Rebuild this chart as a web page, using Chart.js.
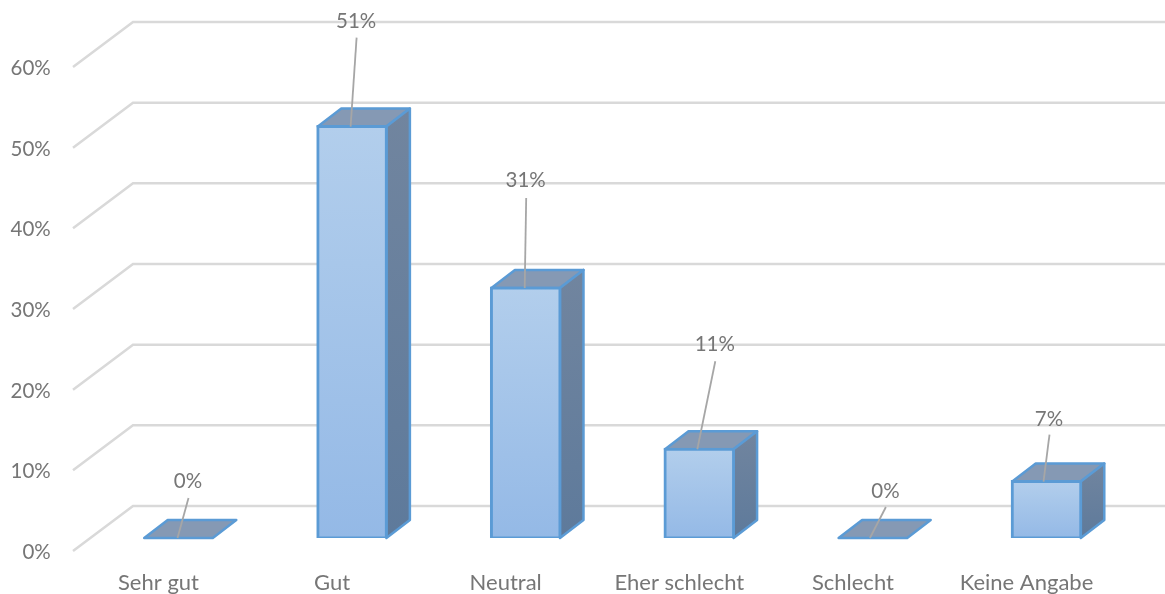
<!DOCTYPE html>
<html lang="de">
<head>
    <meta charset="UTF-8">
    <title>Umfrage</title>
    <script src="https://cdn.jsdelivr.net/npm/chart.js"></script>
    <style>
        html, body { margin: 0; padding: 0; background: #fff; overflow: hidden; }
        #wrap { width: 1165px; height: 594px; }
    </style>
</head>
<body>
    <div id="wrap"><canvas id="surveyChart"></canvas></div>
    <script>
        const categories = ['Sehr gut', 'Gut', 'Neutral', 'Eher schlecht', 'Schlecht', 'Keine Angabe'];
        const shares = [0, 51, 31, 11, 0, 7];
        const yTicks = [0, 10, 20, 30, 40, 50, 60];

        // callout line per bar: where it leaves the bar top and where it ends, relative to the bar
        const calloutStartX = [-1, -1.5, -1, -2, -3, -3];
        const calloutEndX = [10, 4.5, 0.5, 16, 13, 3];
        const calloutRise = [40, 89, 90, 88, 31, 47];
        const calloutGap = [17, 16, 18, 17, 16, 15];

        const textColor = '#767676';
        const gridColor = '#d9d9d9';
        const edgeColor = '#5b9bd5';
        const depthX = 23.5, depthY = 18;
        // wall offsets of the gridlines, measured from the bar plane
        const wallFrontX = 73, wallBackX = 133, wallFrontDrop = 13, wallBackRise = 32;

        function faceGradient(ctx, top, bottom, from, to) {
            const g = ctx.createLinearGradient(0, top, 0, bottom);
            g.addColorStop(0, from);
            g.addColorStop(1, to);
            return g;
        }

        function frontFill(context) {
            const chart = context.chart;
            if (!chart.chartArea) return '#a3c3e9';
            const y = chart.scales.y;
            return faceGradient(chart.ctx, y.getPixelForValue(shares[context.dataIndex]), y.getPixelForValue(0), '#b2ceec', '#94b9e6');
        }

        function polygon(ctx, pts) {
            ctx.beginPath();
            pts.forEach((p, i) => i ? ctx.lineTo(p[0], p[1]) : ctx.moveTo(p[0], p[1]));
            ctx.closePath();
        }

        // bent gridlines and the top/side faces of the bars, under the front faces
        const backdrop = {
            id: 'backdrop',
            beforeDatasetsDraw(chart) {
                const { ctx, scales } = chart;
                ctx.save();
                ctx.strokeStyle = gridColor;
                ctx.lineWidth = 2.5;
                yTicks.forEach(v => {
                    const y = scales.y.getPixelForValue(v);
                    ctx.beginPath();
                    ctx.moveTo(wallFrontX, y + wallFrontDrop);
                    ctx.lineTo(wallBackX, y - wallBackRise);
                    ctx.lineTo(chart.width, y - wallBackRise);
                    ctx.stroke();
                });
                ctx.lineJoin = 'round';
                ctx.strokeStyle = edgeColor;
                ctx.lineWidth = 2.5;
                chart.getDatasetMeta(0).data.forEach(bar => {
                    const half = bar.width / 2;
                    const l = bar.x - half, r = bar.x + half, t = bar.y, b = bar.base;
                    polygon(ctx, [[l, t], [l + depthX, t - depthY], [r + depthX, t - depthY], [r, t]]);
                    ctx.fillStyle = '#8599b4';
                    ctx.fill();
                    ctx.stroke();
                    if (b - t > 1) {
                        polygon(ctx, [[r, t], [r + depthX, t - depthY], [r + depthX, b - depthY], [r, b]]);
                        ctx.fillStyle = faceGradient(ctx, t - depthY, b, '#71859f', '#5e7a9b');
                        ctx.fill();
                        ctx.stroke();
                    }
                });
                ctx.restore();
            }
        };

        // value labels with their callout lines
        const callouts = {
            id: 'callouts',
            afterDatasetsDraw(chart) {
                const { ctx } = chart;
                ctx.save();
                ctx.font = '20.5px Lato';
                ctx.textAlign = 'center';
                ctx.textBaseline = 'middle';
                chart.getDatasetMeta(0).data.forEach((bar, i) => {
                    const x0 = bar.x + calloutStartX[i];
                    const x1 = bar.x + calloutEndX[i];
                    const y1 = bar.y - calloutRise[i];
                    ctx.strokeStyle = '#a6a6a6';
                    ctx.lineWidth = 1.8;
                    ctx.beginPath();
                    ctx.moveTo(x0, bar.y);
                    ctx.lineTo(x1, y1);
                    ctx.stroke();
                    ctx.fillStyle = textColor;
                    ctx.fillText(shares[i] + '%', x1 - 0.5, y1 - calloutGap[i]);
                });
                ctx.restore();
            }
        };

        new Chart(document.getElementById('surveyChart'), {
            type: 'bar',
            data: {
                labels: categories,
                datasets: [{
                    data: shares,
                    backgroundColor: frontFill,
                    borderColor: edgeColor,
                    borderWidth: 3,
                    borderSkipped: false,
                    inflateAmount: 1.5,
                    barPercentage: 0.395,
                    categoryPercentage: 1
                }]
            },
            plugins: [backdrop, callouts],
            options: {
                responsive: true,
                maintainAspectRatio: false,
                animation: false,
                layout: { padding: { top: 54, right: 31.7, bottom: 0, left: 0 } },
                plugins: { legend: { display: false }, tooltip: { enabled: false } },
                scales: {
                    x: {
                        grid: { display: false },
                        border: { display: false },
                        afterFit: s => { s.height = 56; },
                        ticks: {
                            color: textColor,
                            font: { family: 'Lato', size: 22 },
                            padding: 24,
                            labelOffset: -20,
                            maxRotation: 0,
                            autoSkip: false
                        }
                    },
                    y: {
                        min: 0,
                        max: 60,
                        grid: { display: false },
                        border: { display: false },
                        afterFit: s => { s.width = 91.7; },
                        ticks: {
                            stepSize: 10,
                            color: textColor,
                            font: { family: 'Lato', size: 20.5 },
                            padding: 33,
                            labelOffset: 14.5,
                            callback: v => v + '%'
                        }
                    }
                }
            }
        });
    </script>
</body>
</html>
